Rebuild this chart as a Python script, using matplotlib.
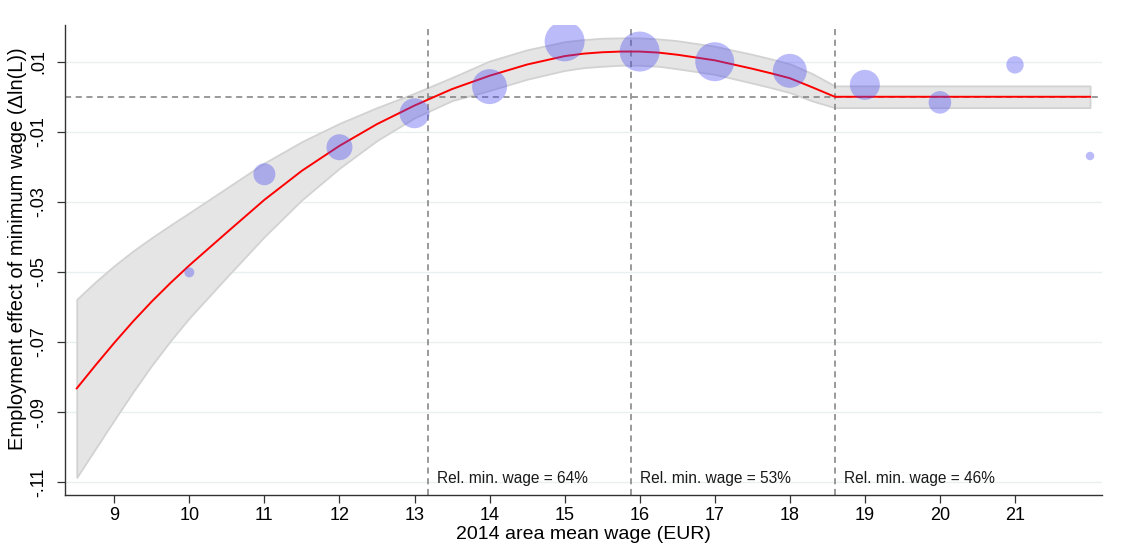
import matplotlib.pyplot as plt

# Arial-like font, DejaVu as fallback for special characters
plt.rcParams['font.family'] = ['Liberation Sans', 'DejaVu Sans']

# Binned means: area mean wage bin, employment effect, bin weight (marker area)
bin_wage = [10, 11, 12, 13, 14, 15, 16, 17, 18, 19, 20, 21, 22]
bin_effect = [-0.0501, -0.0221, -0.0144, -0.0047, 0.0029, 0.0158, 0.0129,
              0.0100, 0.0074, 0.0034, -0.0016, 0.0091, -0.0169]
bin_weight = [25, 121, 169, 225, 306, 400, 400, 380, 289, 225, 128, 76, 18]

# Fitted effect and confidence band
fit_wage = [8.5, 8.75, 9.0, 9.25, 9.5, 9.75, 10.0, 10.5, 11.0, 11.5, 12.0,
            12.5, 13.0, 13.5, 14.0, 14.5, 15.0, 15.25, 15.5, 15.75, 16.0,
            16.25, 16.5, 17.0, 17.5, 17.75, 18.0, 18.3, 18.6, 22.0]
fit_effect = [-0.0832, -0.0766, -0.0702, -0.0641, -0.0584, -0.0531, -0.0481,
              -0.0387, -0.0294, -0.0211, -0.0140, -0.0078, -0.0025, 0.0022,
              0.0060, 0.0092, 0.0116, 0.0123, 0.0127, 0.0129, 0.0129,
              0.0126, 0.0120, 0.0104, 0.0080, 0.0067, 0.0053, 0.0027, 0.0, 0.0]
ci_low = [-0.1086, -0.1004, -0.0922, -0.0842, -0.0766, -0.0696, -0.0631,
          -0.0514, -0.0399, -0.0294, -0.0204, -0.0125, -0.0060, -0.0011,
          0.0018, 0.0050, 0.0075, 0.0083, 0.0087, 0.0090, 0.0090,
          0.0087, 0.0080, 0.0064, 0.0039, 0.0026, 0.0012, -0.0012, -0.0031, -0.0031]
ci_high = [-0.0578, -0.0528, -0.0482, -0.0440, -0.0402, -0.0366, -0.0331,
           -0.0260, -0.0189, -0.0128, -0.0076, -0.0031, 0.0010, 0.0055,
           0.0102, 0.0134, 0.0157, 0.0163, 0.0167, 0.0168, 0.0168,
           0.0165, 0.0160, 0.0144, 0.0121, 0.0108, 0.0094, 0.0066, 0.0031, 0.0031]

# Mean wages where the minimum wage bite changes
cut_wage = [13.18, 15.89, 18.60]
cut_labels = ['Rel. min. wage = 64%', 'Rel. min. wage = 53%', 'Rel. min. wage = 46%']

xticks = list(range(9, 22))
yticks = [0.01, -0.01, -0.03, -0.05, -0.07, -0.09, -0.11]
ytick_labels = ['.01', '-.01', '-.03', '-.05', '-.07', '-.09', '-.11']

fig = plt.figure(figsize=(11.24, 5.56), dpi=100)
ax = fig.add_axes([0.0578, 0.1102, 0.9226, 0.8448])

# grid lines
for y in yticks:
    ax.axhline(y, color='#e8f0f2', lw=1.0, zorder=0)

# confidence band and fit
ax.fill_between(fit_wage, ci_low, ci_high, facecolor='#e5e5e5',
                edgecolor='#d2d2d2', lw=1.3, zorder=1)
ax.plot(fit_wage, fit_effect, color='red', lw=1.4, zorder=3)

# reference lines
ax.axhline(0, color='#7f7f7f', lw=1.1, ls=(0, (4, 3)), zorder=2)
for xc, lab in zip(cut_wage, cut_labels):
    ax.axvline(xc, color='#7f7f7f', lw=1.1, ls=(0, (4, 3)), zorder=2)
    ax.text(xc + 0.12, -0.1088, lab, fontsize=11.2, va='center', ha='left',
            color='#1a1a1a', zorder=5)

# binned means, marker area proportional to bin weight
ax.scatter(bin_wage, bin_effect, s=[w * 2.07 for w in bin_weight],
           color='#4c4cf2', alpha=0.38, lw=0, zorder=4)

ax.set_xlim(8.343, 22.159)
ax.set_ylim(-0.11354, 0.02047)
ax.set_xticks(xticks)
ax.set_xticklabels([str(t) for t in xticks], fontsize=13)
ax.set_yticks(yticks)
ax.set_yticklabels(ytick_labels, fontsize=13, rotation=90, va='center')

ax.tick_params(direction='out', length=5.5, width=0.9, color='#333333')
ax.tick_params(axis='x', pad=3)
ax.tick_params(axis='y', pad=7)

for side in ['top', 'right']:
    ax.spines[side].set_visible(False)
for side in ['left', 'bottom']:
    ax.spines[side].set_color('#333333')
    ax.spines[side].set_linewidth(1.0)

ax.set_xlabel('2014 area mean wage (EUR)', fontsize=14, labelpad=2)
ax.set_ylabel('Employment effect of minimum wage (\u0394ln(L))', fontsize=14.5, labelpad=4)
ax.yaxis.set_label_coords(-0.0366, 0.523)

fig.savefig('out.png', dpi=100)
